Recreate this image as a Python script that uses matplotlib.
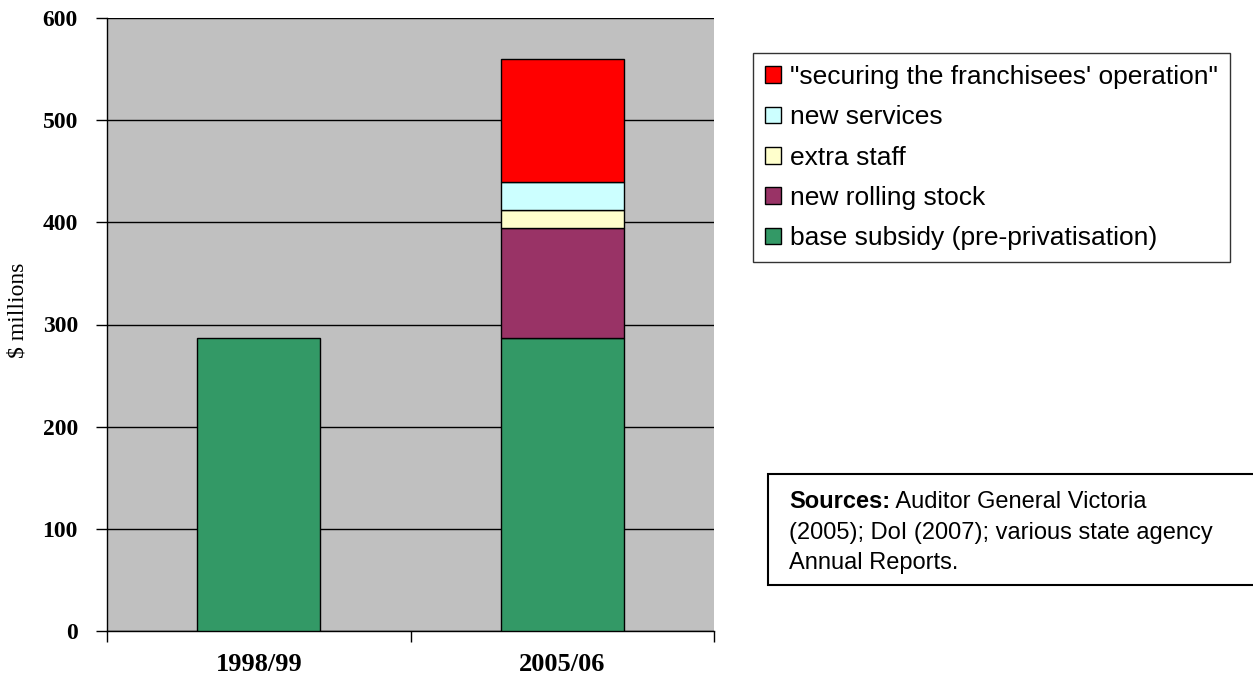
import matplotlib.pyplot as plt
import numpy as np
from matplotlib.patches import Patch, Rectangle

# datos ($ millones)
years = ['1998/99', '2005/06']
base_subsidy = [287, 287]
rolling_stock = [0, 107]
extra_staff = [0, 18]
new_services = [0, 27]
securing = [0, 121]

series = [
    ('base subsidy (pre-privatisation)', base_subsidy, '#339966'),
    ('new rolling stock', rolling_stock, '#993366'),
    ('extra staff', extra_staff, '#FFFFCC'),
    ('new services', new_services, '#CCFFFF'),
    ('"securing the franchisees\' operation"', securing, '#FF0000'),
]

W, H = 1253, 681
fig = plt.figure(figsize=(W / 100, H / 100), dpi=100)
ax = fig.add_axes([107 / W, 1 - 631 / H, (714 - 107) / W, (631 - 18) / H])
ax.set_facecolor('#C0C0C0')

x = np.arange(len(years))
bottom = np.zeros(len(years))
handles = []
for label, vals, color in series:
    vals = np.array(vals, dtype=float)
    keep = vals > 0  # no dibujar segmentos vacíos
    ax.bar(x[keep], vals[keep], width=0.405, bottom=bottom[keep], color=color,
           edgecolor='black', linewidth=1, zorder=3)
    bottom += vals
    handles.append(Patch(facecolor=color, edgecolor='black', linewidth=1, label=label))

ax.set_xlim(-0.5, 1.5)
ax.set_ylim(0, 600)
ax.set_yticks(range(0, 601, 100))
ax.yaxis.grid(True, color='black', linewidth=1, zorder=1)
ax.set_axisbelow(True)

for s in ['top', 'right']:
    ax.spines[s].set_visible(False)
ax.spines['left'].set_linewidth(1)
ax.spines['bottom'].set_linewidth(1)

ax.set_xticks(x)
ax.set_xticklabels(years)
ax.set_xticks([-0.5, 0.5, 1.5], minor=True)
ax.tick_params(axis='x', which='major', length=0, pad=24)
ax.tick_params(axis='x', which='minor', length=8, width=1, direction='out')
ax.tick_params(axis='y', length=8, width=1, direction='out', pad=13)

for t in ax.get_yticklabels():
    t.set_fontfamily('Liberation Serif')
    t.set_fontweight('bold')
    t.set_fontsize(17)
for t in ax.get_xticklabels():
    t.set_fontfamily('Liberation Serif')
    t.set_fontweight('bold')
    t.set_fontsize(19)
    t.set_verticalalignment('center')

fig.text(18 / W, 1 - 310 / H, '$ millions', rotation=90, ha='center', va='center',
         fontfamily='Liberation Serif', fontsize=17)

# leyenda (orden invertido)
leg = fig.legend(handles=handles[::-1], loc='upper left',
                 bbox_to_anchor=(753 / W, 1 - 53 / H), borderaxespad=0,
                 frameon=True, fancybox=False, edgecolor='black',
                 prop={'family': 'Liberation Sans', 'size': 19},
                 handlelength=0.6, handleheight=0.6, handletextpad=0.35,
                 labelspacing=0.62, borderpad=0.45)
leg.get_frame().set_linewidth(1)

# recuadro de fuentes
fig.patches.append(Rectangle((768 / W, 1 - 585 / H), (W - 768) / W + 0.01, (585 - 474) / H,
                             transform=fig.transFigure, facecolor='white',
                             edgecolor='black', linewidth=1.5))
src = fig.text(789 / W, 1 - 502 / H, 'Sources:', fontfamily='Liberation Sans', fontsize=17,
               fontweight='bold', va='center')
fig.canvas.draw()
bb = src.get_window_extent()
fig.text(bb.x1 / W, 1 - 502 / H, ' Auditor General Victoria',
         fontfamily='Liberation Sans', fontsize=17, va='center')
fig.text(789 / W, 1 - 533 / H, '(2005); DoI (2007); various state agency',
         fontfamily='Liberation Sans', fontsize=17, va='center')
fig.text(789 / W, 1 - 563 / H, 'Annual Reports.',
         fontfamily='Liberation Sans', fontsize=17, va='center')

fig.savefig('out.png', dpi=100, facecolor='white')
